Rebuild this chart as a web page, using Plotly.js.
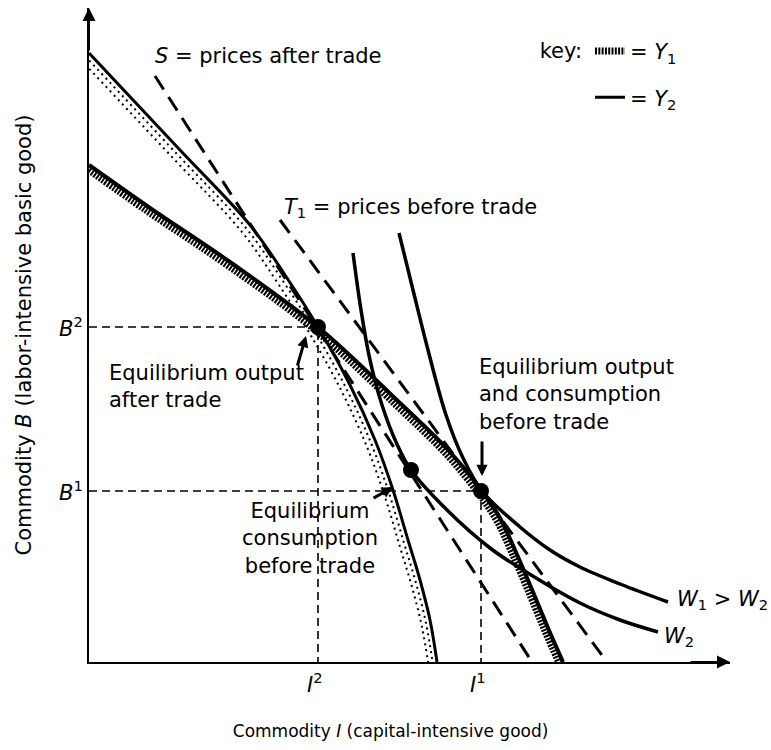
<!DOCTYPE html>
<html><head><meta charset="utf-8">
<script src="https://cdn.plot.ly/plotly-3.0.1.min.js"></script>
<style>html,body{margin:0;padding:0;background:#fff}#chart{width:771px;height:750px}</style>
</head><body><div id="chart"></div>
<script>
// ---- schematic data (diagram units) ----
const y1X = [0, 61, 141, 229, 311, 361, 393, 411, 426, 444, 459, 474];
const y1Y = [497, 454, 400, 335, 259, 210, 171, 144, 112, 70, 34, 0];
const y2X = [0, 91, 161, 196, 229, 261, 286, 304, 319, 331, 341, 348];
const y2Y = [609, 512, 437, 387, 335, 277, 222, 172, 122, 82, 42, 0];
const w1X = [310, 324, 339, 357, 374, 393, 431, 461, 491, 531, 579];
const w1Y = [429, 372, 312, 247, 204, 171, 135, 112, 95, 78, 60];
const w2X = [264, 272, 281, 293, 307, 322, 358, 401, 434, 491, 531, 569];
const w2Y = [409, 352, 302, 257, 220, 192, 152, 114, 92, 59, 42, 30];
const sX = [66, 443];  const sY = [586, 0];
const t1X = [191, 518]; const t1Y = [442, 0];
const eqX = [229, 322, 392]; const eqY = [335, 192, 171];
const bLevels = [335, 171];
const iLevels = [229, 392];
const bLabels = ['<i>B</i><sup>2</sup>', '<i>B</i><sup>1</sup>'];
const iLabels = ['<i>I</i><sup>2</sup>', '<i>I</i><sup>1</sup>'];
const keyNames = ['= <i>Y</i><sub>1</sub>', '= <i>Y</i><sub>2</sub>'];
const xTitle = 'Commodity <i>I</i> (capital-intensive good)' + '&nbsp;'.repeat(7);
const yTitle = 'Commodity <i>B</i> (labor-intensive basic good)';

const FONT = 'DejaVu Sans, sans-serif';
const K = '#000';
const shift = (arr, d) => arr.map(v => v + d);

const traces = [];
// guide lines
for (let k = 0; k < 2; k++) {
  traces.push({x: [0, iLevels[k], iLevels[k]], y: [bLevels[k], bLevels[k], 0], mode: 'lines',
    line: {color: K, width: 1.6, dash: '8px,5px'}, showlegend: false, hoverinfo: 'skip'});
}
// Y2 (thin solid with stipple inside)
traces.push({x: shift(y2X, -4), y: shift(y2Y, -3), mode: 'lines', line: {color: K, width: 2, dash: '2px,4px', shape: 'spline'}, showlegend: false, hoverinfo: 'skip'});
traces.push({x: shift(y2X, -8), y: shift(y2Y, -7), mode: 'lines', line: {color: K, width: 2, dash: '2px,4px', shape: 'spline'}, showlegend: false, hoverinfo: 'skip'});
traces.push({x: y2X, y: y2Y, mode: 'lines', name: keyNames[1], legendgroup: 'b', legendrank: 2,
  line: {color: K, width: 3, shape: 'spline'}, hoverinfo: 'skip'});
// Y1 (thick hatched)
traces.push({x: shift(y1X, -3), y: shift(y1Y, -3), mode: 'lines', name: keyNames[0], legendgroup: 'a', legendrank: 1,
  line: {color: K, width: 7, dash: '2px,1.3px', shape: 'spline'}, hoverinfo: 'skip'});
traces.push({x: y1X, y: y1Y, mode: 'lines', line: {color: K, width: 4, shape: 'spline'}, showlegend: false, hoverinfo: 'skip'});
// price lines
traces.push({x: sX, y: sY, mode: 'lines', line: {color: K, width: 3, dash: '16px,9px'}, showlegend: false, hoverinfo: 'skip'});
traces.push({x: t1X, y: t1Y, mode: 'lines', line: {color: K, width: 3, dash: '16px,9px'}, showlegend: false, hoverinfo: 'skip'});
// indifference curves
traces.push({x: w1X, y: w1Y, mode: 'lines', line: {color: K, width: 3.5, shape: 'spline'}, showlegend: false, hoverinfo: 'skip'});
traces.push({x: w2X, y: w2Y, mode: 'lines', line: {color: K, width: 3.5, shape: 'spline'}, showlegend: false, hoverinfo: 'skip'});
// equilibrium points
traces.push({x: eqX, y: eqY, mode: 'markers', marker: {color: K, size: 16}, showlegend: false, hoverinfo: 'skip'});

const txt = (x, y, text, extra) => Object.assign({x, y, xref: 'x', yref: 'y', text, showarrow: false,
  xanchor: 'left', yanchor: 'middle', font: {family: FONT, size: 21, color: K}}, extra || {});
const arr = (x, y, ax, ay, w, s) => ({x, y, ax, ay, xref: 'x', yref: 'y', axref: 'x', ayref: 'y', text: '',
  showarrow: true, arrowhead: 2, arrowsize: s, arrowwidth: w, arrowcolor: K, standoff: 0, startstandoff: 0});

const ann = [
  txt(64, 606, '<i>S</i> = prices after trade'),
  txt(193, 454, '<i>T</i><sub>1</sub> = prices before trade'),
  txt(18, 276, 'Equilibrium output<br>after trade', {align: 'left'}),
  txt(388, 268, 'Equilibrium output<br>and consumption<br>before trade', {align: 'left'}),
  txt(221, 124, 'Equilibrium<br>consumption<br>before trade', {align: 'center', xanchor: 'center'}),
  txt(586, 62, '<i>W</i><sub>1</sub> &gt; <i>W</i><sub>2</sub>'),
  txt(573, 25, '<i>W</i><sub>2</sub>'),
  arr(217, 326, 208, 295, 3, 0.75),
  arr(393, 186, 393, 222, 3, 0.75),
  arr(304, 175, 283, 163, 3, 0.75),
  arr(641, 0, 600, 0, 2, 1.3),
  arr(0, 654, 0, 610, 2, 1.3)
];
for (let k = 0; k < 2; k++) {
  ann.push(txt(0, bLevels[k], bLabels[k], {xanchor: 'right', xshift: -4}));
  ann.push(txt(iLevels[k] - 3, 0, iLabels[k], {xanchor: 'center', yshift: -21}));
}

const layout = {
  width: 771, height: 750,
  margin: {l: 89, r: 41, t: 8, b: 88},
  paper_bgcolor: '#fff', plot_bgcolor: '#fff',
  font: {family: FONT, color: K},
  xaxis: {range: [0, 641], showgrid: false, zeroline: false, showticklabels: false, ticks: '',
    showline: true, linecolor: K, linewidth: 2, fixedrange: true,
    title: {text: xTitle, font: {family: FONT, size: 17, color: K}, standoff: 62}},
  yaxis: {range: [0, 654], showgrid: false, zeroline: false, showticklabels: false, ticks: '',
    showline: true, linecolor: K, linewidth: 2, fixedrange: true,
    title: {text: yTitle, font: {family: FONT, size: 21, color: K}, standoff: 50}},
  showlegend: true,
  legend: {x: 0.70, y: 0.965, xanchor: 'left', yanchor: 'top', bgcolor: 'rgba(0,0,0,0)',
    font: {family: FONT, size: 21, color: K}, traceorder: 'grouped', tracegroupgap: 16,
    title: {text: 'key:', side: 'left', font: {family: FONT, size: 21, color: K}}},
  annotations: ann
};
Plotly.newPlot('chart', traces, layout, {staticPlot: true, displayModeBar: false});
</script>
</body></html>
